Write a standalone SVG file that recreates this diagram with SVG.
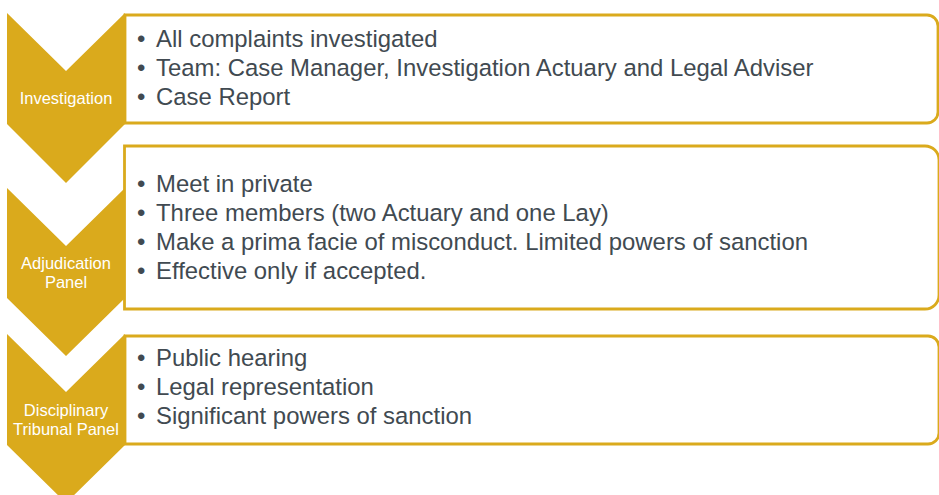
<svg xmlns="http://www.w3.org/2000/svg" width="939" height="495" viewBox="0 0 939 495">
<style>
.chev{fill:#DAAA1C;}
.box{fill:#FFFFFF;stroke:#DAAA1C;stroke-width:2.8;}
.lbl{font-family:"Liberation Sans",Arial,sans-serif;font-size:16.5px;fill:#FFFFFF;text-anchor:middle;}
.txt{font-family:"Liberation Sans",Arial,sans-serif;font-size:23.9px;fill:#414A51;}
</style>
<rect width="939" height="495" fill="#FFFFFF"/>
<g id="connectors"/>
<g id="investigation">
<path class="box" d="M125,15 H927 A11,11 0 0 1 938,26 V112 A11,11 0 0 1 927,123 H125 Z"/>
<polygon class="chev" points="7,13 66,71 125,13 125,124 66,183 7,124"/>
<text class="lbl" x="66" y="104">Investigation</text>
<text class="txt"><tspan x="137" y="47">•</tspan><tspan x="156" y="47">All complaints investigated</tspan><tspan x="137" y="76">•</tspan><tspan x="156" y="76">Team: Case Manager, Investigation Actuary and Legal Adviser</tspan><tspan x="137" y="105">•</tspan><tspan x="156" y="105">Case Report</tspan></text>
</g>
<g id="adjudication">
<path class="box" d="M124.5,146 H925 A14,14 0 0 1 939,160 V295 A14,14 0 0 1 925,309 H124.5 Z"/>
<polygon class="chev" points="7,188 66,246 125,188 125,298 66,356 7,298"/>
<text class="lbl" x="66" y="269">Adjudication</text>
<text class="lbl" x="66" y="288">Panel</text>
<text class="txt"><tspan x="137" y="192">•</tspan><tspan x="156" y="192">Meet in private</tspan><tspan x="137" y="221">•</tspan><tspan x="156" y="221">Three members (two Actuary and one Lay)</tspan><tspan x="137" y="250">•</tspan><tspan x="156" y="250">Make a prima facie of misconduct. Limited powers of sanction</tspan><tspan x="137" y="279">•</tspan><tspan x="156" y="279">Effective only if accepted.</tspan></text>
</g>
<g id="tribunal">
<path class="box" d="M125,336 H928 A11,11 0 0 1 939,347 V433 A11,11 0 0 1 928,444 H125 Z"/>
<polygon class="chev" points="7,334 66,392 125,334 125,445 66,503 7,445"/>
<text class="lbl" x="66" y="416">Disciplinary</text>
<text class="lbl" x="66" y="435">Tribunal Panel</text>
<text class="txt"><tspan x="137" y="366">•</tspan><tspan x="156" y="366">Public hearing</tspan><tspan x="137" y="395">•</tspan><tspan x="156" y="395">Legal representation</tspan><tspan x="137" y="424">•</tspan><tspan x="156" y="424">Significant powers of sanction</tspan></text>
</g>
</svg>
